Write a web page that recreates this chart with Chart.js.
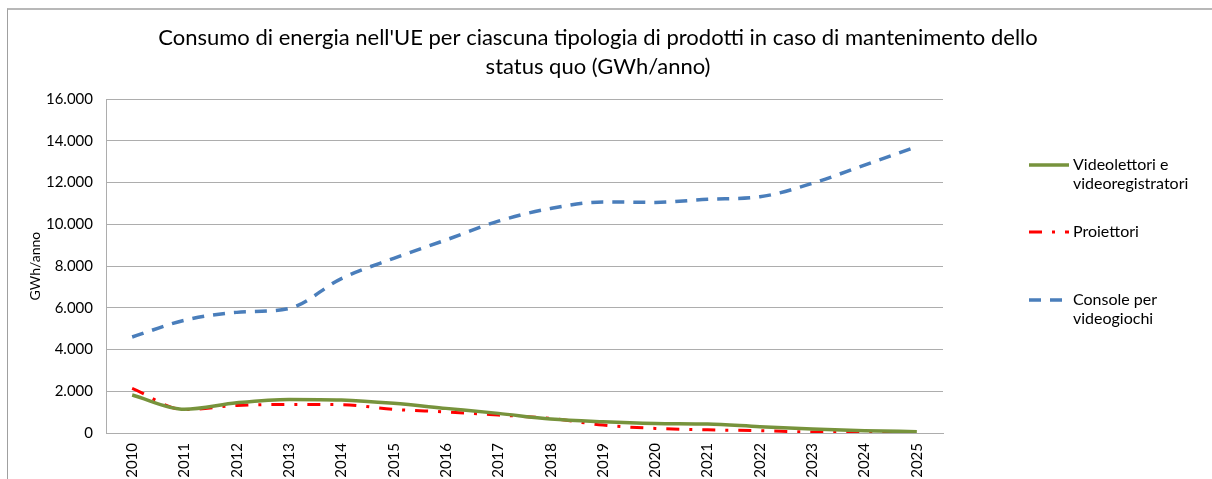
<!DOCTYPE html>
<html>
<head>
<meta charset="utf-8">
<script src="https://cdn.jsdelivr.net/npm/chart.js@4/dist/chart.umd.min.js"></script>
<style>
  html, body { margin: 0; padding: 0; background: #fff; overflow: hidden; }
  #frame { position: absolute; left: 7px; top: 8px; width: 1400px; height: 700px;
           border-left: 1px solid #A0A0A0; border-top: 2px solid #B8B8B8; box-sizing: border-box; }
  #wrap { position: absolute; left: 0; top: 0; width: 1212px; height: 479px; }
</style>
</head>
<body>
<div id="frame"></div>
<div id="wrap"><canvas id="c" width="1212" height="479"></canvas></div>
<script>
const titleLines = ["Consumo di energia nell'UE per ciascuna tipologia di prodotti in caso di mantenimento dello", "status quo (GWh/anno)"];
const years = ["2010","2011","2012","2013","2014","2015","2016","2017","2018","2019","2020","2021","2022","2023","2024","2025"];
const videolettori = [1820, 1140, 1450, 1610, 1580, 1420, 1180, 940, 670, 540, 460, 430, 300, 190, 110, 65];
const proiettori = [2140, 1120, 1320, 1370, 1360, 1130, 1010, 860, 700, 380, 220, 150, 110, 50, 30, 0];
const consoleVideogiochi = [4600, 5400, 5780, 5970, 7400, 8370, 9250, 10150, 10760, 11070, 11050, 11200, 11320, 11960, 12840, 13720];
const seriesNames = [["Videolettori e", "videoregistratori"], ["Proiettori"], ["Console per", "videogiochi"]];
const yAxisTitle = "GWh/anno";

const FONT = "Lato, 'Liberation Sans', sans-serif";

function fmt(v) {
  return String(v).replace(/\B(?=(\d{3})+(?!\d))/g, ".");
}

const legendPlugin = {
  id: 'sideLegend',
  afterDraw(chart) {
    const ctx = chart.ctx;
    const items = [
      { ds: 0, y: 165 },
      { ds: 1, y: 232 },
      { ds: 2, y: 300 }
    ];
    ctx.save();
    ctx.font = "16px " + FONT;
    ctx.fillStyle = "#000";
    ctx.textBaseline = "middle";
    ctx.textAlign = "left";
    items.forEach(it => {
      const ds = chart.data.datasets[it.ds];
      ctx.beginPath();
      ctx.strokeStyle = ds.borderColor;
      ctx.lineWidth = ds.borderWidth;
      ctx.setLineDash(ds.borderDash || []);
      ctx.lineCap = 'butt';
      ctx.moveTo(1029, it.y);
      ctx.lineTo(1069, it.y);
      ctx.stroke();
      ctx.setLineDash([]);
      seriesNames[it.ds].forEach((t, i) => {
        ctx.fillText(t, 1073, it.y + i * 19);
      });
    });
    ctx.restore();
  }
};

new Chart(document.getElementById('c'), {
  type: 'line',
  data: {
    labels: years,
    datasets: [
      { label: seriesNames[0].join(' '), data: videolettori, borderColor: '#77933C', borderWidth: 3.5,
        pointRadius: 0, cubicInterpolationMode: 'monotone', fill: false },
      { label: seriesNames[1].join(' '), data: proiettori, borderColor: '#FF0000', borderWidth: 3,
        borderDash: [13, 10, 3, 10], pointRadius: 0, cubicInterpolationMode: 'monotone', fill: false },
      { label: seriesNames[2].join(' '), data: consoleVideogiochi, borderColor: '#4A7EBB', borderWidth: 3.5,
        borderDash: [12, 9], pointRadius: 0, cubicInterpolationMode: 'monotone', fill: false }
    ]
  },
  options: {
    responsive: false,
    animation: false,
    layout: { padding: { left: 0, right: 16, top: 9, bottom: 0 } },
    plugins: {
      legend: { display: false },
      tooltip: { enabled: false },
      title: {
        display: true,
        text: titleLines,
        color: '#000',
        font: { family: FONT, size: 22, weight: 'normal', lineHeight: 1.32 },
        padding: { top: 14.5, bottom: 17.5 }
      }
    },
    scales: {
      x: {
        type: 'category',
        offset: true,
        grid: { display: false, drawTicks: false },
        border: { display: true, color: '#ADADAD', width: 1 },
        ticks: { color: '#000', font: { family: FONT, size: 15 }, maxRotation: 90, minRotation: 90, padding: 10, autoSkip: false },
        afterFit(s) { s.height = 46; }
      },
      y: {
        min: 0, max: 16000,
        grid: { color: '#ADADAD', lineWidth: 1, drawTicks: false },
        border: { display: true, color: '#ADADAD', width: 1 },
        ticks: { stepSize: 2000, color: '#000', font: { family: FONT, size: 15 }, padding: 13, callback: v => fmt(v) },
        title: { display: true, text: yAxisTitle, color: '#000', font: { family: FONT, size: 14 }, padding: { top: 27.5 } },
        afterFit(s) { s.width = 106; }
      },
      y2: {
        position: 'right',
        min: 0, max: 16000,
        display: true,
        grid: { display: false, drawTicks: false },
        border: { display: false },
        ticks: { display: false },
        afterFit(s) { s.width = 1212 - 16 - 943; }
      }
    }
  },
  plugins: [legendPlugin]
});
</script>
</body>
</html>
